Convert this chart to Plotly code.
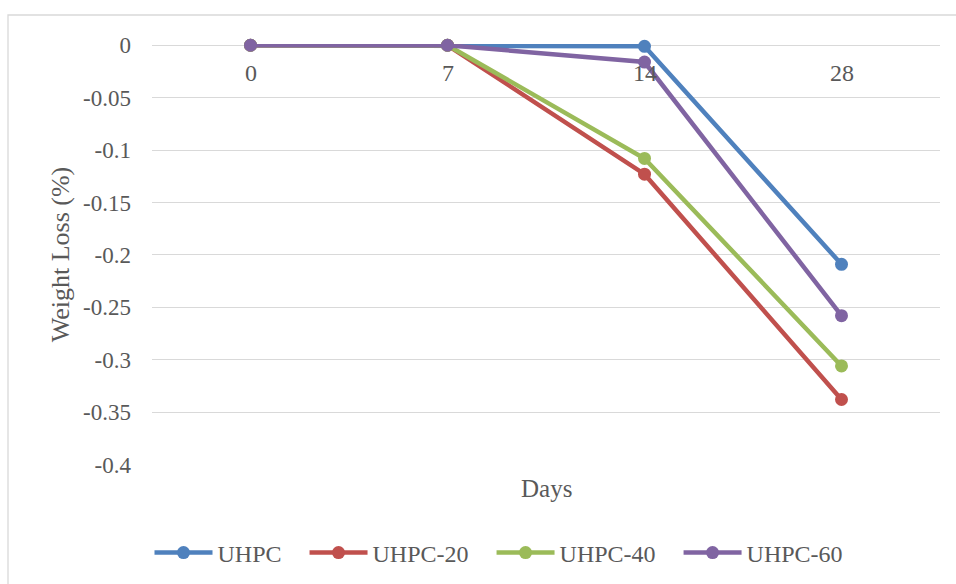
import plotly.graph_objects as go

days = ["0", "7", "14", "28"]
series_names = ["UHPC", "UHPC-20", "UHPC-40", "UHPC-60"]
uhpc = [0, 0, -0.001, -0.209]
uhpc20 = [0, 0, -0.123, -0.338]
uhpc40 = [0, 0, -0.108, -0.306]
uhpc60 = [0, 0, -0.016, -0.258]
y_ticks = [0, -0.05, -0.1, -0.15, -0.2, -0.25, -0.3, -0.35, -0.4]
y_tick_text = ["0", "-0.05", "-0.1", "-0.15", "-0.2", "-0.25", "-0.3", "-0.35", "-0.4"]

colors = ["#4f81bd", "#c0504d", "#9bbb59", "#8064a2"]
FONT = "Liberation Serif"
TXT = "#595959"
PAD = "\u00a0\u00a0\u00a0"

fig = go.Figure()
for name, vals, c in zip(series_names, [uhpc, uhpc20, uhpc40, uhpc60], colors):
    fig.add_trace(go.Scatter(
        x=days, y=vals, name=name + PAD, mode="lines+markers",
        line=dict(color=c, width=4.5),
        marker=dict(color=c, size=13),
        cliponaxis=False,
    ))

W, H = 956, 584
L, R, T, B = 152, 16, 44, 119
pw, ph = W - L - R, H - T - B

def px_x(px):
    return (px - L) / pw

def px_y(py):
    return (H - B - py) / ph

annotations = [dict(
    text="Days", xref="paper", yref="paper",
    x=0.5, y=px_y(488), xanchor="center", yanchor="middle",
    showarrow=False, font=dict(family=FONT, size=25, color=TXT),
)]
for i, d in enumerate(days):
    annotations.append(dict(
        text=d, xref="x", yref="y", x=i, y=0,
        xanchor="center", yanchor="middle", yshift=-28,
        showarrow=False, font=dict(family=FONT, size=24, color=TXT),
    ))

fig.update_layout(
    width=W, height=H,
    margin=dict(l=L, r=R, t=T, b=B, autoexpand=False),
    paper_bgcolor="white", plot_bgcolor="white",
    font=dict(family=FONT, size=24, color=TXT),
    showlegend=True,
    legend=dict(
        orientation="h", x=px_x(508), xanchor="center",
        y=px_y(553), yanchor="middle",
        font=dict(family=FONT, size=24, color=TXT),
        itemwidth=58, tracegroupgap=0,
    ),
    xaxis=dict(
        type="category", range=[-0.5, 3.5],
        showticklabels=False,
        showgrid=False, zeroline=False, showline=False, ticks="",
    ),
    yaxis=dict(
        range=[-0.4005, 0.0012], tickvals=y_ticks, ticktext=y_tick_text,
        showgrid=True, gridcolor="#d9d9d9", gridwidth=1.3,
        zeroline=False, showline=False, ticks="",
        ticklabelstandoff=20,
        tickfont=dict(family=FONT, size=23, color=TXT),
        title=dict(text="Weight Loss (%)", standoff=5,
                   font=dict(family=FONT, size=26, color=TXT)),
    ),
    annotations=annotations,
    shapes=[dict(
        type="rect", xref="paper", yref="paper",
        x0=px_x(8), x1=px_x(970), y0=px_y(600), y1=px_y(15),
        line=dict(color="#d9d9d9", width=1.3), fillcolor="rgba(0,0,0,0)",
        layer="below",
    )],
)

fig.write_html("out.html")
